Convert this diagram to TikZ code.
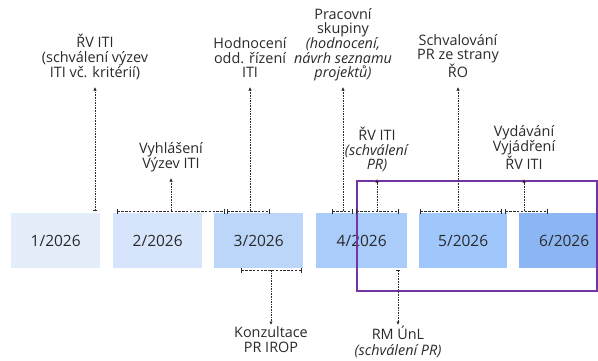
\documentclass[tikz,border=0pt]{standalone}
\usepackage{fontspec}
\setmainfont{Open Sans}
\usetikzlibrary{arrows.meta}
\definecolor{ink}{HTML}{2A2A2A}
\definecolor{mA}{HTML}{E4EEFB}
\definecolor{mB}{HTML}{D6E5FC}
\definecolor{mC}{HTML}{BCD6FA}
\definecolor{mD}{HTML}{A9CCFA}
\definecolor{mE}{HTML}{A0C7FC}
\definecolor{mF}{HTML}{8BB6F3}
\definecolor{frame}{HTML}{7334A6}
\begin{document}
\begin{tikzpicture}[x=1pt,y=-1pt,
  month/.style={fill=#1, minimum height=55pt, inner sep=0pt, anchor=north west,
    font=\fontsize{15.5}{16}\selectfont, text=ink},
  lbl/.style={align=center, font=\fontsize{14.4}{14.3}\selectfont, text=ink,
    inner xsep=0pt, inner ysep=5pt},
  lblup/.style={lbl, anchor=south},
  lbldown/.style={lbl, anchor=north, inner ysep=1pt},
  brk/.style={draw=ink, line width=0.8pt, dash pattern=on 2.4pt off 1.4pt,
    {Bar[width=5pt]}-{Bar[width=5pt]}},
  conn/.style={draw=ink, line width=0.8pt, dash pattern=on 1.6pt off 1pt,
    -{Latex[length=3.5pt,width=3.5pt]}},
  barconn/.style={conn, {Bar[width=4pt]}-{Latex[length=3.5pt,width=3.5pt]}},
]
\clip (0,0) rectangle (598,360);
\fill[white] (0,0) rectangle (598,360);

% month boxes
\node[month=mA, minimum width=89pt] (b1) at (11,213) {1/2026};
\node[month=mB, minimum width=89pt] (b2) at (113,213) {2/2026};
\node[month=mC, minimum width=89pt] (b3) at (214,213) {3/2026};
\node[month=mD, minimum width=91pt] (b4) at (316,213) {4/2026};
\node[month=mE, minimum width=88pt] (b5) at (419,213) {5/2026};
\node[month=mF, minimum width=90pt] (b6) at (519,213) {6/2026};

% highlight frame
\draw[frame, line width=2pt] (357,181) rectangle (597,291);

% labels
\node[lblup] (t1) at (95,87) {ŘV ITI\\(schválení výzev\\ITI vč. kritérií)\strut};
\node[lblup] (t2) at (171,178) {Vyhlášení\\Výzev ITI\strut};
\node[lblup] (t3) at (250,87) {Hodnocení\\odd. řízení\\ITI\strut};
\node[lblup] (t4) at (343,87) {Pracovní\\skupiny\\\textit{(hodnocení,}\\\textit{návrh seznamu}\\\textit{projektů)}\strut};
\node[lblup] (t5) at (377,179) {ŘV ITI\\\textit{(schválení}\\\textit{PR)}\strut};
\node[lblup] (t6) at (458,87) {Schvalování\\PR ze strany\\ŘO\strut};
\node[lblup] (t9) at (524,179) {Vydávání\\Vyjádření\\ŘV ITI\strut};
\node[lbldown] (t7) at (271,325) {\strut Konzultace\\PR IROP};
\node[lbldown] (t8) at (398,325) {\strut RM ÚnL\\\textit{(schválení PR)}};

% bracket coordinates (top)
\coordinate (k1) at (95,211);
\coordinate (k2l) at (117,211); \coordinate (k2r) at (225,211); \coordinate (k2m) at (171,211);
\coordinate (k3l) at (227,211); \coordinate (k3r) at (270,211); \coordinate (k3m) at (250,211);
\coordinate (k4l) at (332,211); \coordinate (k4r) at (353,211); \coordinate (k4m) at (343,211);
\coordinate (k5l) at (356,211); \coordinate (k5r) at (399,211); \coordinate (k5m) at (377,211);
\coordinate (k6l) at (420,211); \coordinate (k6r) at (502,211); \coordinate (k6m) at (458,211);
\coordinate (k9l) at (505,211); \coordinate (k9r) at (548,211); \coordinate (k9m) at (524,211);
% bracket coordinates (bottom)
\coordinate (k7l) at (241,270); \coordinate (k7r) at (302,270); \coordinate (k7m) at (271,270);
\coordinate (k8) at (398,270);

% brackets
\draw[brk] (k2l) -- (k2r);
\draw[brk] (k3l) -- (k3r);
\draw[brk] (k4l) -- (k4r);
\draw[brk] (k5l) -- (k5r);
\draw[brk] (k6l) -- (k6r);
\draw[brk] (k9l) -- (k9r);
\draw[brk] (k7l) -- (k7r);

% connectors
\draw[barconn] (k1) -- (t1.south);
\draw[conn] (k2m) -- (t2.south);
\draw[conn] (k3m) -- (t3.south);
\draw[conn] (k4m) -- (t4.south);
\draw[conn] (k5m) -- (t5.south);
\draw[conn] (k6m) -- (t6.south);
\draw[conn] (k9m) -- (t9.south);
\draw[conn] (k7m) -- (t7.north);
\draw[barconn] (k8) -- (t8.north);
\end{tikzpicture}
\end{document}
